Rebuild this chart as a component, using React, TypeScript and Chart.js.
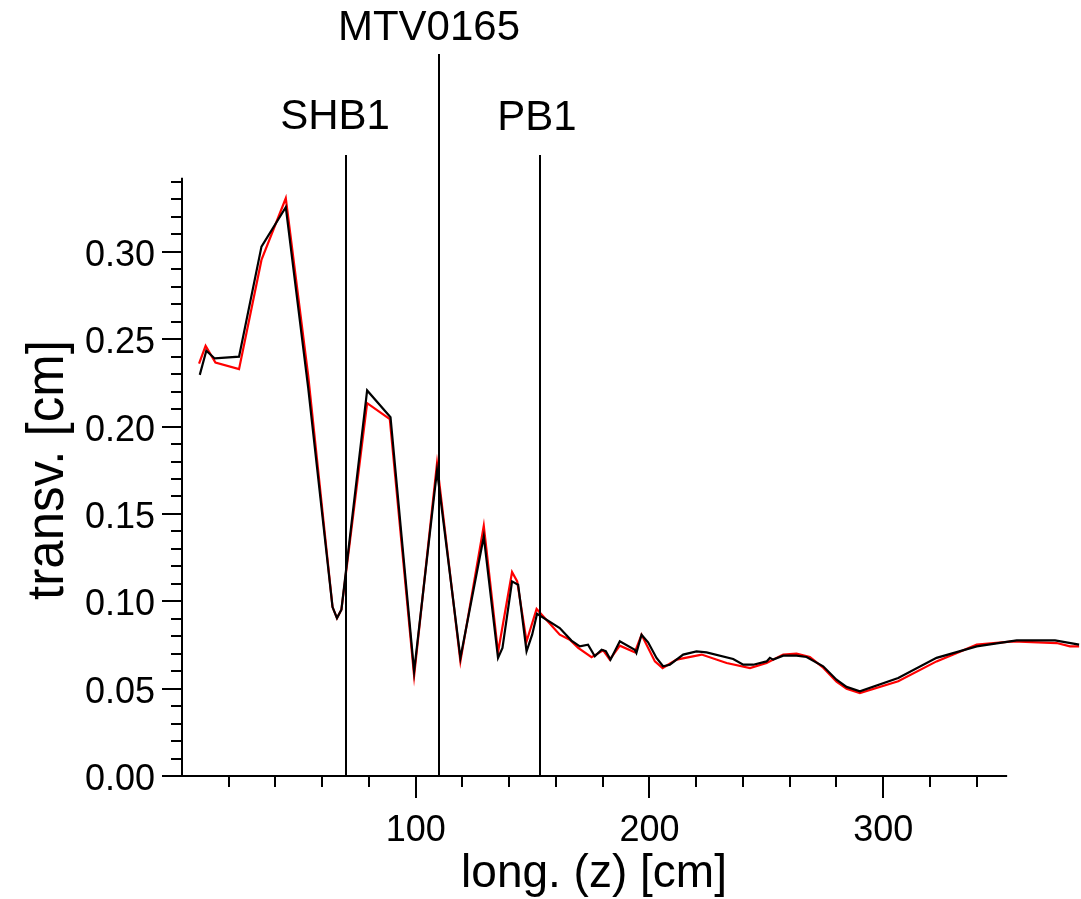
import React, { useEffect, useRef } from "react";
import { Chart, registerables } from "chart.js";

Chart.register(...registerables);

// ---- data ----
const blackX = [7.6, 10.4, 14.0, 24.4, 34.0, 44.4, 54.0, 64.4, 66.3, 68.2, 79.2, 89.2, 99.3, 109.1, 119.1, 129.1, 135.2, 137.1, 141.2, 143.8, 147.4, 149.8, 151.9, 161.6, 166.6, 170.2, 173.7, 176.6, 179.5, 181.3, 183.3, 187.3, 193.7, 194.4, 196.6, 199.4, 203.0, 205.8, 208.7, 214.4, 220.1, 224.4, 235.8, 240.1, 244.4, 250.1, 251.5, 252.9, 257.2, 262.9, 267.2, 274.3, 280.0, 284.3, 290.0, 306.4, 322.8, 340.0, 357.1, 373.5, 383.8];
const blackY = [0.2296, 0.2434, 0.239, 0.24, 0.303, 0.3256, 0.222, 0.0967, 0.0904, 0.0952, 0.2207, 0.2054, 0.0599, 0.175, 0.0676, 0.1371, 0.0676, 0.0733, 0.1114, 0.1095, 0.0713, 0.0809, 0.0929, 0.0847, 0.0775, 0.0742, 0.0752, 0.0685, 0.0723, 0.0714, 0.0666, 0.0771, 0.0723, 0.0704, 0.0809, 0.0765, 0.0676, 0.0628, 0.0637, 0.0695, 0.0713, 0.0708, 0.067, 0.0637, 0.0637, 0.0656, 0.0676, 0.0666, 0.0689, 0.0689, 0.0681, 0.0628, 0.0551, 0.051, 0.0485, 0.0561, 0.0676, 0.0742, 0.0776, 0.0776, 0.0752];

const redX = [7.3, 10.1, 14.3, 24.4, 34.0, 44.4, 54.0, 64.4, 66.3, 68.2, 79.2, 88.9, 99.3, 109.1, 119.1, 129.1, 135.2, 141.2, 143.4, 147.4, 151.7, 161.6, 165.9, 169.5, 175.2, 180.2, 183.0, 187.3, 193.7, 196.6, 202.3, 205.6, 211.6, 222.3, 233.0, 243.0, 250.1, 257.2, 262.9, 268.6, 274.3, 280.0, 284.3, 290.0, 306.4, 322.8, 340.0, 355.6, 374.2, 379.9, 383.8];
const redY = [0.236, 0.2462, 0.2367, 0.2329, 0.2954, 0.3307, 0.229, 0.0967, 0.0904, 0.0952, 0.2134, 0.2043, 0.0574, 0.179, 0.0656, 0.1432, 0.0708, 0.1168, 0.1114, 0.077, 0.0956, 0.0809, 0.078, 0.0733, 0.068, 0.0719, 0.0666, 0.0746, 0.0708, 0.0809, 0.0656, 0.0618, 0.0666, 0.0695, 0.0647, 0.0618, 0.0647, 0.0695, 0.07, 0.0681, 0.062, 0.054, 0.05, 0.0475, 0.0542, 0.0656, 0.0752, 0.0771, 0.0761, 0.0742, 0.0742];

const markerNames = ["SHB1", "MTV0165", "PB1"];
const markerPositions = [70, 110, 153];

const xMajorTicks = [100, 200, 300];
const xTickLabels = ["100", "200", "300"];
const yMajorTicks = [0, 0.05, 0.1, 0.15, 0.2, 0.25, 0.3];
const yTickLabels = ["0.00", "0.05", "0.10", "0.15", "0.20", "0.25", "0.30"];

const xTitle = "long. (z) [cm]";
const yTitle = "transv. [cm]";

const FONT = '"Liberation Sans", Arial, sans-serif';

const axesPlugin = {
  id: "customAxes",
  afterDatasetsDraw(chart: any) {
    const ctx = chart.ctx as CanvasRenderingContext2D;
    const xs = chart.scales.x;
    const ys = chart.scales.y;
    const x0 = xs.getPixelForValue(0);
    const y0 = ys.getPixelForValue(0);
    ctx.save();
    ctx.strokeStyle = "#000";
    ctx.fillStyle = "#000";
    ctx.lineWidth = 2;
    ctx.lineCap = "butt";

    // axis lines
    ctx.beginPath();
    ctx.moveTo(x0, ys.getPixelForValue(0.3425));
    ctx.lineTo(x0, y0);
    ctx.lineTo(xs.getPixelForValue(353), y0);
    ctx.stroke();

    // x ticks
    for (let v = 20; v <= 340; v += 20) {
      const px = Math.round(xs.getPixelForValue(v));
      const major = v % 100 === 0;
      ctx.beginPath();
      ctx.moveTo(px, y0);
      ctx.lineTo(px, y0 + (major ? 22 : 11));
      ctx.stroke();
    }
    // y ticks
    for (let i = 0; i <= 34; i++) {
      const v = i / 100;
      const py = Math.round(ys.getPixelForValue(v));
      const major = i % 5 === 0;
      ctx.beginPath();
      ctx.moveTo(x0, py);
      ctx.lineTo(x0 - (major ? 20 : 11), py);
      ctx.stroke();
    }

    // tick labels
    ctx.font = `36px ${FONT}`;
    ctx.textAlign = "center";
    ctx.textBaseline = "alphabetic";
    xMajorTicks.forEach((v, i) => {
      ctx.fillText(xTickLabels[i], xs.getPixelForValue(v), y0 + 65);
    });
    ctx.textAlign = "right";
    yMajorTicks.forEach((v, i) => {
      ctx.fillText(yTickLabels[i], x0 - 27, ys.getPixelForValue(v) + 14);
    });

    // marker lines
    const tops = [155, 54, 155];
    const labelBase = [129, 40, 130];
    const labelDx = [-11, -10, -3];
    ctx.font = `42px ${FONT}`;
    ctx.textAlign = "center";
    markerPositions.forEach((m, i) => {
      const px = Math.round(xs.getPixelForValue(m));
      ctx.beginPath();
      ctx.moveTo(px, tops[i]);
      ctx.lineTo(px, y0);
      ctx.stroke();
      ctx.fillText(markerNames[i], px + labelDx[i], labelBase[i]);
    });

    // titles
    ctx.font = `46px ${FONT}`;
    ctx.textAlign = "center";
    ctx.fillText(xTitle, 594, 887);
    ctx.save();
    ctx.translate(63, 470);
    ctx.rotate(-Math.PI / 2);
    ctx.font = `51px ${FONT}`;
    ctx.fillText(yTitle, 0, 0);
    ctx.restore();

    ctx.restore();
  },
};

export default function App() {
  const ref = useRef<HTMLCanvasElement | null>(null);
  useEffect(() => {
    if (!ref.current) return;
    const chart = new Chart(ref.current, {
      type: "line",
      data: {
        datasets: [
          {
            label: "black",
            data: blackX.map((x, i) => ({ x, y: blackY[i] })),
            borderColor: "#000000",
            borderWidth: 2.2,
            pointRadius: 0,
            tension: 0,
          },
          {
            label: "red",
            data: redX.map((x, i) => ({ x, y: redY[i] })),
            borderColor: "#ff0000",
            borderWidth: 2.2,
            pointRadius: 0,
            tension: 0,
          },
        ],
      },
      options: {
        responsive: false,
        devicePixelRatio: 1,
        animation: false,
        layout: { padding: { left: 182, right: 0, top: 182, bottom: 123 } },
        scales: {
          x: { type: "linear", min: 0, max: 384.6, display: false },
          y: { type: "linear", min: 0, max: 0.34, display: false },
        },
        plugins: { legend: { display: false }, tooltip: { enabled: false } },
      },
      plugins: [axesPlugin],
    });
    return () => chart.destroy();
  }, []);
  return (
    <canvas
      ref={ref}
      width={1081}
      height={899}
      style={{ position: "absolute", left: 0, top: 0, width: 1081, height: 899, background: "#fff" }}
    />
  );
}
